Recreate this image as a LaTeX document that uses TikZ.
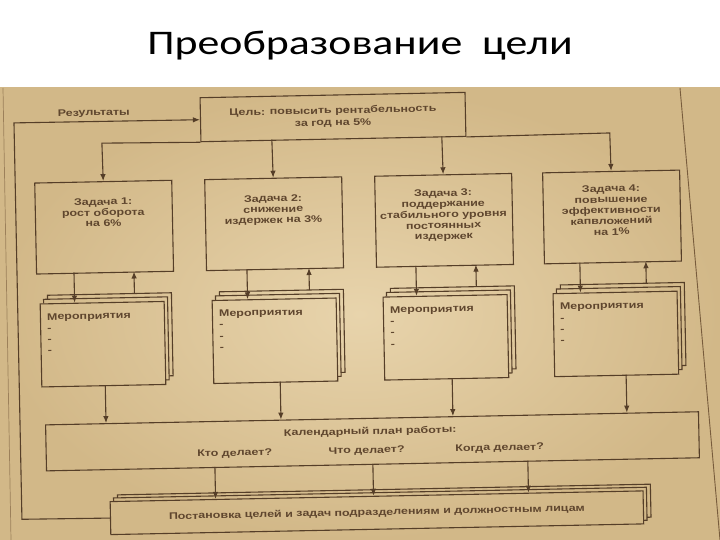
\documentclass[tikz,border=0pt]{standalone}
\usepackage{fontspec}
\setmainfont{Carlito}
\newfontfamily\titlefont[FakeStretch=1.27]{Carlito}
\newfontfamily\dgfont[FakeStretch=1.3]{Liberation Sans}
\usetikzlibrary{arrows.meta}
\definecolor{lncol}{RGB}{85,62,40}
\definecolor{txcol}{RGB}{95,70,46}
\definecolor{bgin}{RGB}{232,212,172}
\definecolor{bgout}{RGB}{210,184,136}
\definecolor{pgcol}{RGB}{120,92,60}
\begin{document}
\begin{tikzpicture}[x=1pt,y=-1pt,
  box/.style={draw=lncol, line width=1.1pt, inner sep=0pt, anchor=north west},
  wire/.style={draw=lncol, line width=1.1pt},
  arr/.style={draw=lncol, line width=1.1pt, -{Latex[length=7pt,width=5.5pt]}},
  dtxt/.style={text=txcol, font=\dgfont\bfseries\fontsize{9.6}{10.8}\selectfont, align=center, inner sep=0pt},
  ltxt/.style={text=txcol, font=\dgfont\bfseries\fontsize{9.6}{11.3}\selectfont, align=left, inner sep=0pt, anchor=north west},
]
\useasboundingbox (0,0) rectangle (720,540);
\fill[white] (0,0) rectangle (720,540);
\shade[inner color=bgin, outer color=bgout] (0,88) rectangle (720,540);
\node[anchor=base, font=\titlefont\fontsize{34.5}{40}\selectfont, text=black] (title) at (360,55) {Преобразование\ \ цели};

\draw[line width=0.9pt, draw=pgcol] (680,88) -- (720,540);
\draw[line width=0.7pt, draw=pgcol, opacity=0.6] (3,88) -- (11,540);

\begin{scope}[rotate around={1.15:(360,320)}, transform shape]
% goal
\node[box, minimum width=265pt, minimum height=44pt, dtxt, font=\dgfont\bfseries\fontsize{9.6}{12}\selectfont] (goal) at (204,94) {Цель: повысить рентабельность\\за год на 5\%};
\node[dtxt] (res) at (98,108) {Результаты};

% tasks
\node[box, minimum width=137pt, minimum height=91pt] (t1) at (37,176) {};
\node[box, minimum width=137pt, minimum height=91pt] (t2) at (207,176) {};
\node[box, minimum width=137pt, minimum height=91pt] (t3) at (377,176) {};
\node[box, minimum width=137pt, minimum height=91pt] (t4) at (545,176) {};
\node[dtxt, anchor=north] (t1l) at (105.5,193) {Задача 1:\\рост оборота\\на 6\%};
\node[dtxt, anchor=north] (t2l) at (275.5,193) {Задача 2:\\снижение\\издержек на 3\%};
\node[dtxt, anchor=north] (t3l) at (445.5,191) {Задача 3:\\поддержание\\стабильного уровня\\постоянных\\издержек};
\node[dtxt, anchor=north] (t4l) at (613.5,190) {Задача 4:\\повышение\\эффективности\\капвложений\\на 1\%};

% stacks of measures
\foreach \i/\x in {1/40,2/212,3/383,4/553}{
  \node[box, minimum width=124pt, minimum height=83pt] (s\i) at (\x,297) {};
  \draw[wire] (s\i.north west) ++(4,0) -- ++(0,-4) -- ++(124,0) -- ++(0,83) -- ++(-4,0);
  \draw[wire] (s\i.north west) ++(8,-4) -- ++(0,-4) -- ++(124,0) -- ++(0,83) -- ++(-4,0);
  \node[ltxt] (s\i l) at (\x+7,307) {Мероприятия\\-\\-\\-};
}

% calendar
\node[box, minimum width=653pt, minimum height=46pt] (cal) at (43,418) {};
\node[dtxt] (calt) at (368,432) {Календарный план работы:};
\node[dtxt] (who) at (232,451) {Кто делает?};
\node[dtxt] (what) at (364,451) {Что делает?};
\node[dtxt] (when) at (497,451) {Когда делает?};

% bottom stack
\node[box, minimum width=533pt, minimum height=33pt, dtxt, anchor=north west] (bot) at (106,496) {Постановка целей и задач подразделениям и должностным лицам};
\draw[wire] (bot.north west) ++(4,0) -- ++(0,-3) -- ++(533,0) -- ++(0,33) -- ++(-4,0);
\draw[wire] (bot.north west) ++(8,-3) -- ++(0,-3) -- ++(533,0) -- ++(0,33) -- ++(-4,0);

% goal to tasks
\coordinate (bl) at (105.5,138);
\coordinate (br) at (613.5,138);
\coordinate (g2) at (275.5,138);
\coordinate (g3) at (445.5,138);
\draw[arr] (goal.south west) -- (bl) -- (t1.north);
\draw[arr] (goal.south east) -- (br) -- (t4.north);
\draw[arr] (g2) -- (t2.north);
\draw[arr] (g3) -- (t3.north);

% tasks <-> measures, measures -> calendar
\foreach \i/\dx/\ux/\cx in {1/75/135/104, 2/248/310/279, 3/417/477/451, 4/581/647/625}{
  \coordinate (d\i a) at (\dx,267);
  \coordinate (d\i b) at (\dx,297);
  \coordinate (u\i a) at (\ux,289);
  \coordinate (u\i b) at (\ux,267);
  \coordinate (c\i a) at (\cx,380);
  \coordinate (c\i b) at (\cx,418);
  \draw[arr] (d\i a) -- (d\i b);
  \draw[arr] (u\i a) -- (u\i b);
  \draw[arr] (c\i a) -- (c\i b);
}

% calendar -> bottom
\foreach \i/\x in {1/212,2/370,3/525}{
  \coordinate (k\i a) at (\x,464);
  \coordinate (k\i b) at (\x,496);
  \draw[arr] (k\i a) -- (k\i b);
}

% feedback
\coordinate (fb1) at (18,512.5);
\coordinate (fb2) at (18,116);
\draw[arr] (bot.west) -- (fb1) -- (fb2) -- (goal.west);
\end{scope}
\end{tikzpicture}
\end{document}
